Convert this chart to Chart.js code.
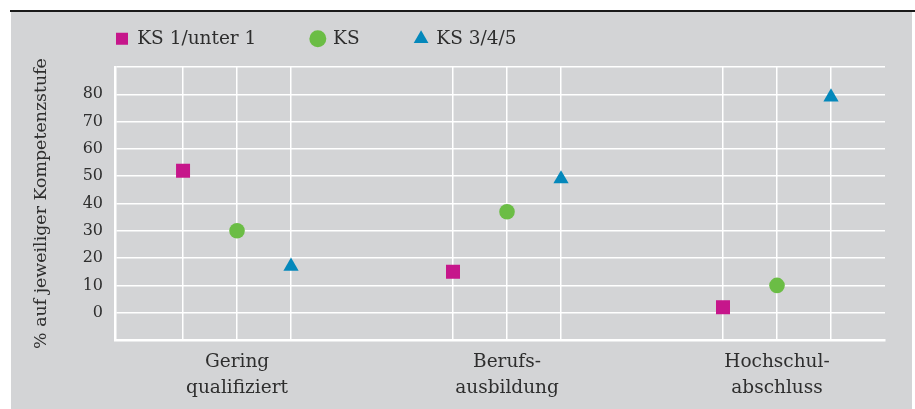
<!DOCTYPE html>
<html>
<head>
<meta charset="utf-8">
<script src="https://cdn.jsdelivr.net/npm/chart.js@4.4.1/dist/chart.umd.min.js"></script>
<style>
  html, body { margin: 0; padding: 0; background: #ffffff; }
  body { width: 915px; height: 409px; position: relative; overflow: hidden; }
  #rule { position: absolute; left: 10px; top: 10px; width: 905px; height: 2px; background: #1a1a1a; }
  #panel { position: absolute; left: 11px; top: 12px; width: 901px; height: 397px; background: #d3d4d6; }
  #wrap { position: absolute; left: 0; top: 0; width: 901px; height: 397px; }
</style>
</head>
<body>
<div id="rule"></div>
<div id="panel"><div id="wrap"><canvas id="c"></canvas></div></div>
<script>
// ---- data ----
const categories = [['Gering', 'qualifiziert'], ['Berufs-', 'ausbildung'], ['Hochschul-', 'abschluss']];
const seriesNames = ['KS 1/unter 1', 'KS', 'KS 3/4/5'];
const ks1Values = [52, 15, 2];
const ks2Values = [30, 37, 10];
const ks3Values = [17, 49, 79];
const yTickValues = [0, 10, 20, 30, 40, 50, 60, 70, 80];
const yAxisTitle = '% auf jeweiliger Kompetenzstufe';

// ---- layout helpers (positions on a linear x axis) ----
const GROUP_STEP = 5;          // distance between category centres
const seriesOffsets = [-1, 0, 1];
const toPoints = (vals, s) => vals.map((v, i) => ({ x: i * GROUP_STEP + seriesOffsets[s], y: v }));
const xTickPositions = [];
categories.forEach((c, i) => seriesOffsets.forEach(o => xTickPositions.push(i * GROUP_STEP + o)));

const FONT = '"DejaVu Serif", serif';
const TEXT = '#2e2e2e';

const legendPlacer = {
  id: 'legendPlacer',
  beforeLayout(chart) {
    const lg = chart.legend;
    if (lg && !lg._wrappedFit) {
      const orig = lg.fit;
      lg.fit = function () { orig.call(this); this.height = 0; };
      lg._wrappedFit = true;
    }
  },
  afterLayout(chart) {
    const lg = chart.legend;
    const pad = chart.options.plugins.legend.labels.padding;
    const fs = chart.options.plugins.legend.labels.font.size;
    lg.left = 105 - pad;
    lg.right = 901;
    lg.top = 26.7 - pad - fs / 2;
  }
};

new Chart(document.getElementById('c'), {
  type: 'scatter',
  data: {
    datasets: [
      { label: seriesNames[0], data: toPoints(ks1Values, 0), pointStyle: 'rect', pointRadius: 9.9, pointHoverRadius: 9.9,
        backgroundColor: '#c6168b', borderColor: '#c6168b', borderWidth: 0 },
      { label: seriesNames[1], data: toPoints(ks2Values, 1), pointStyle: 'circle', pointRadius: 7.8, pointHoverRadius: 7.8,
        backgroundColor: '#6bbd45', borderColor: '#6bbd45', borderWidth: 0 },
      { label: seriesNames[2], data: toPoints(ks3Values, 2), pointStyle: 'triangle', pointRadius: 8.8, pointHoverRadius: 8.8,
        backgroundColor: '#0488bb', borderColor: '#0488bb', borderWidth: 0 }
    ]
  },
  options: {
    responsive: true,
    maintainAspectRatio: false,
    animation: false,
    layout: { padding: { top: 55, right: 27, left: 0, bottom: 0 } },
    plugins: {
      tooltip: { enabled: false },
      legend: {
        position: 'top',
        align: 'start',
        labels: {
          usePointStyle: true,
          boxWidth: 12, boxHeight: 12,
          padding: 55.5,
          color: TEXT,
          font: { family: FONT, size: 18.5 }
        }
      }
    },
    scales: {
      x: {
        type: 'linear',
        min: -2.26, max: 12,
        afterBuildTicks(axis) { axis.ticks = xTickPositions.map(v => ({ value: v })); },
        afterFit(axis) { axis.height = 69; },
        grid: { color: '#ffffff', lineWidth: 1.5, drawTicks: false },
        border: { color: '#ffffff', width: 2.5 },
        ticks: {
          autoSkip: false, maxRotation: 0, padding: 9,
          color: TEXT, font: { family: FONT, size: 18.5, lineHeight: 1.4 },
          callback(v) {
            const r = ((v % GROUP_STEP) + GROUP_STEP) % GROUP_STEP;
            if (r === 0) return categories[Math.round(v / GROUP_STEP)];
            return '';
          }
        }
      },
      y: {
        min: -10, max: 90,
        afterBuildTicks(axis) {
          axis.ticks = [-10].concat(yTickValues, [90]).map(v => ({ value: v }));
        },
        afterFit(axis) { axis.width = 104; },
        grid: { color: '#ffffff', lineWidth: 1.5, drawTicks: false },
        border: { color: '#ffffff', width: 2.5 },
        ticks: {
          padding: 12, color: TEXT, font: { family: FONT, size: 16 },
          callback(v) { return yTickValues.includes(v) ? String(v) : ''; }
        },
        title: {
          display: true, text: yAxisTitle, color: TEXT,
          font: { family: FONT, size: 17.4, lineHeight: 1.2 },
          padding: { top: 19.6, bottom: 0 }
        }
      }
    }
  },
  plugins: [legendPlacer]
});
</script>
</body>
</html>
